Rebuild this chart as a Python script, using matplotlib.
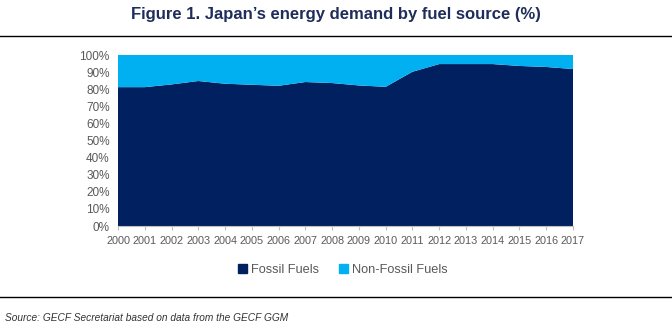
import matplotlib.pyplot as plt
from matplotlib.lines import Line2D
from matplotlib.patches import Patch

plt.rcParams['font.family'] = ['Liberation Sans', 'DejaVu Sans']

years = list(range(2000, 2018))
fossil = [81.2, 81.2, 82.8, 84.8, 83.2, 82.6, 82.0, 84.2, 83.6, 82.2,
          81.4, 90.2, 94.7, 94.7, 94.7, 93.6, 93.0, 91.8]
non_fossil = [100 - v for v in fossil]

FOSSIL_COLOR = '#002060'
NONFOSSIL_COLOR = '#00B0F0'
TEXT_GRAY = '#595959'

fig = plt.figure(figsize=(6.72, 3.31), dpi=100)
ax = fig.add_axes([0.1756, 0.3172, 0.6771, 0.5166])

ax.stackplot(years, fossil, non_fossil, colors=[FOSSIL_COLOR, NONFOSSIL_COLOR],
             linewidth=0)
ax.set_xlim(years[0], years[-1])
ax.set_ylim(0, 100)

ax.set_yticks(range(0, 101, 10))
ax.set_yticklabels([f"{v}%" for v in range(0, 101, 10)])
ax.set_xticks(years)
ax.set_xticklabels([str(y) for y in years])
ax.tick_params(axis='y', labelsize=8.5, labelcolor=TEXT_GRAY, length=0, pad=6)
ax.tick_params(axis='x', labelsize=7.8, labelcolor=TEXT_GRAY, length=3,
               color='#BFBFBF', pad=4)
for side in ['top', 'right', 'left']:
    ax.spines[side].set_visible(False)
ax.spines['bottom'].set_color('#BFBFBF')

# title and rules
fig.text(0.5, 0.955, "Figure 1. Japan\u2019s energy demand by fuel source (%)",
         ha='center', va='center', fontsize=12, fontweight='bold', color='#1F2D5A')
fig.add_artist(Line2D([0, 1], [1 - 36 / 331, 1 - 36 / 331], color='black', lw=1))
fig.add_artist(Line2D([0, 1], [1 - 297 / 331, 1 - 297 / 331], color='black', lw=1))

handles = [Patch(color=FOSSIL_COLOR, label='Fossil Fuels'),
           Patch(color=NONFOSSIL_COLOR, label='Non-Fossil Fuels')]
leg = fig.legend(handles=handles, loc='center', bbox_to_anchor=(0.51, 1 - 270 / 331),
                 ncol=2, frameon=False, fontsize=9.2, handlelength=0.7,
                 handleheight=0.7, handletextpad=0.3, columnspacing=1.6)
for t in leg.get_texts():
    t.set_color(TEXT_GRAY)

fig.text(0.008, 1 - 318 / 331, "Source: GECF Secretariat based on data from the GECF GGM",
         ha='left', va='center', fontsize=7.3, style='italic', color='#333333')

fig.savefig('out.png', dpi=100)
